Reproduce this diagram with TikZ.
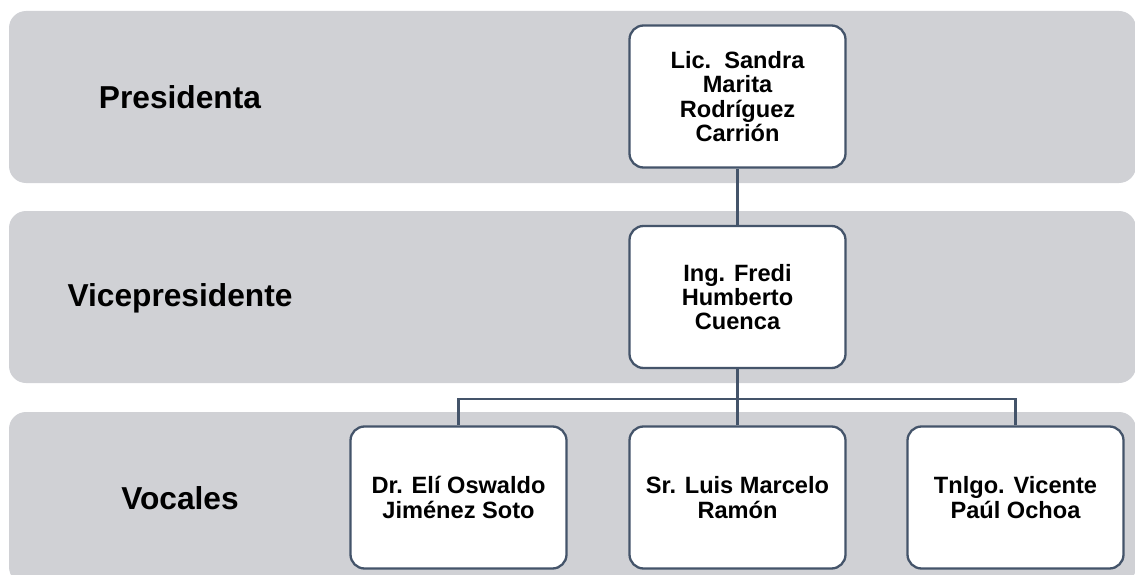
\documentclass[tikz,border=0pt]{standalone}
\usepackage{fontspec}
\setmainfont{Liberation Sans}
\definecolor{bandgray}{RGB}{208,209,213}
\definecolor{slate}{RGB}{68,84,106}
\begin{document}
\begin{tikzpicture}[x=1pt,y=-1pt,
  band/.style={fill=bandgray, rounded corners=17pt},
  lbl/.style={font=\fontsize{31.7}{34}\selectfont\bfseries, text=black, inner sep=0pt},
  person/.style={draw=slate, line width=2.3pt, fill=white, rounded corners=14pt,
    minimum width=216pt, minimum height=142pt, align=center, inner sep=0pt,
    font=\fontsize{23.6}{24.3}\selectfont\bfseries},
  link/.style={draw=slate, line width=2.1pt}]
\useasboundingbox (0,0) rectangle (1135,575);
\clip (0,0) rectangle (1135,575);
\fill[band] (9,11) rectangle (1136,183);
\fill[band] (9,211) rectangle (1136,383);
\fill[band] (9,412) rectangle (1136,584);
\node[lbl] (lpres) at (180,97) {Presidenta};
\node[lbl] (lvice) at (180,298) {Vicepresidente};
\node[lbl] (lvoc) at (180,498) {Vocales};
\node[person] (pres) at (737.5,96.5) {Lic.\ \ Sandra\\Marita\\Rodríguez\\Carrión};
\node[person] (vice) at (737.5,297) {Ing. Fredi\\Humberto\\Cuenca};
\node[person] (v1) at (458.5,497.5) {Dr. Elí Oswaldo\\Jiménez Soto};
\node[person] (v2) at (737.5,497.5) {Sr. Luis Marcelo\\Ramón};
\node[person] (v3) at (1015.5,497.5) {Tnlgo. Vicente\\Paúl Ochoa};
\coordinate (j) at (737.5,399);
\draw[link] (pres.south) -- (vice.north);
\draw[link] (vice.south) -- (j);
\draw[link] (j) -| (v1.north);
\draw[link] (j) -| (v3.north);
\draw[link] (j) -- (v2.north);
\end{tikzpicture}
\end{document}
